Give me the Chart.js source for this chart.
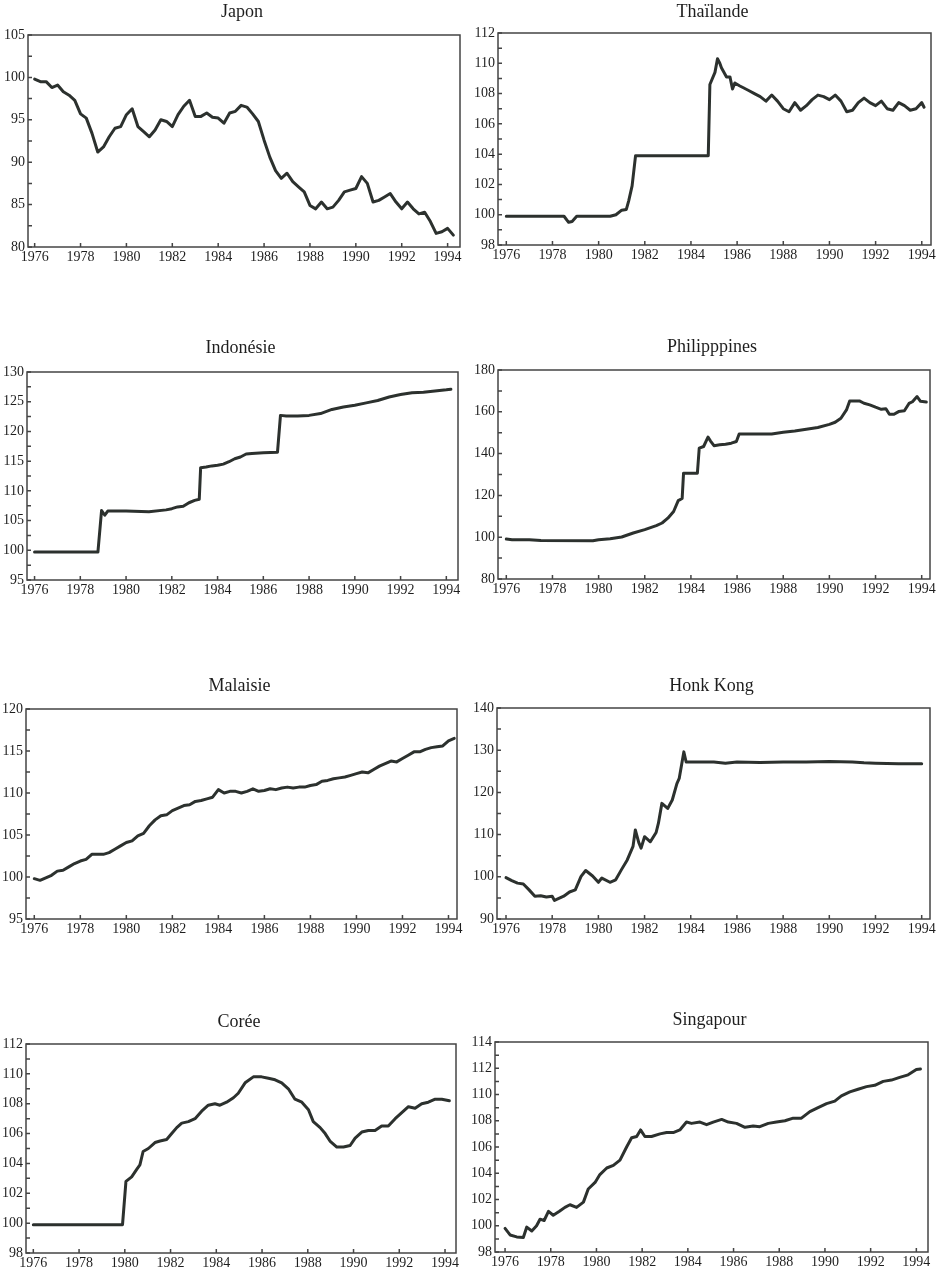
<!DOCTYPE html>
<html lang="fr">
<head>
<meta charset="utf-8">
<title>Taux de change effectifs réels</title>
<script src="https://cdn.jsdelivr.net/npm/chart.js@4/dist/chart.umd.min.js"></script>
<style>
  body { margin: 0; background: #fff; width: 941px; height: 1270px; overflow: hidden; position: relative; }
  canvas { position: absolute; }
</style>
</head>
<body>
<script>
// tick labels of the time axis
const years = [1976, 1978, 1980, 1982, 1984, 1986, 1988, 1990, 1992, 1994];

// quarterly dates used by the two regular series
const quarters = [
  1976, 1976.25, 1976.5, 1976.75, 1977, 1977.25, 1977.5, 1977.75,
  1978, 1978.25, 1978.5, 1978.75, 1979, 1979.25, 1979.5, 1979.75,
  1980, 1980.25, 1980.5, 1980.75, 1981, 1981.25, 1981.5, 1981.75,
  1982, 1982.25, 1982.5, 1982.75, 1983, 1983.25, 1983.5, 1983.75,
  1984, 1984.25, 1984.5, 1984.75, 1985, 1985.25, 1985.5, 1985.75,
  1986, 1986.25, 1986.5, 1986.75, 1987, 1987.25, 1987.5, 1987.75,
  1988, 1988.25, 1988.5, 1988.75, 1989, 1989.25, 1989.5, 1989.75,
  1990, 1990.25, 1990.5, 1990.75, 1991, 1991.25, 1991.5, 1991.75,
  1992, 1992.25, 1992.5, 1992.75, 1993, 1993.25, 1993.5, 1993.75,
  1994, 1994.25
];

const japon = [
  99.8, 99.5, 99.5, 98.8, 99.1, 98.3, 97.9, 97.3,
  95.7, 95.2, 93.4, 91.2, 91.8, 93.0, 94.0, 94.2,
  95.6, 96.3, 94.2, 93.6, 93.0, 93.8, 95.0, 94.8,
  94.2, 95.6, 96.6, 97.3, 95.4, 95.4, 95.8, 95.3,
  95.2, 94.6, 95.8, 96.0, 96.7, 96.5, 95.7, 94.8,
  92.6, 90.6, 89.0, 88.1, 88.7, 87.7, 87.1, 86.5,
  84.9, 84.5, 85.3, 84.5, 84.7, 85.5, 86.5, 86.7,
  86.9, 88.3, 87.5, 85.3, 85.5, 85.9, 86.3, 85.3,
  84.5, 85.3, 84.5, 83.9, 84.1, 83.0, 81.6, 81.8,
  82.2, 81.4
];

const malaisie = [
  99.8, 99.6, 99.9, 100.2, 100.7, 100.8, 101.2, 101.6,
  101.9, 102.1, 102.7, 102.7, 102.7, 102.9, 103.3, 103.7,
  104.1, 104.3, 104.9, 105.2, 106.1, 106.8, 107.3, 107.4,
  107.9, 108.2, 108.5, 108.6, 109.0, 109.1, 109.3, 109.5,
  110.4, 110.0, 110.2, 110.2, 110.0, 110.2, 110.5, 110.2,
  110.3, 110.5, 110.4, 110.6, 110.7, 110.6, 110.7, 110.7,
  110.9, 111.0, 111.4, 111.5, 111.7, 111.8, 111.9, 112.1,
  112.3, 112.5, 112.4, 112.8, 113.2, 113.5, 113.8, 113.7,
  114.1, 114.5, 114.9, 114.9, 115.2, 115.4, 115.5, 115.6,
  116.2, 116.5
];

const thaiT = [
  1976, 1978.5, 1978.7, 1978.85, 1979.05, 1980.5, 1980.75, 1981, 1981.2, 1981.3, 1981.45, 1981.6,
  1984.75, 1984.82, 1985.04, 1985.15, 1985.25, 1985.32, 1985.54, 1985.69, 1985.8, 1985.9,
  1986.12, 1986.25, 1986.5, 1986.75, 1987, 1987.25, 1987.5, 1987.75,
  1988, 1988.25, 1988.5, 1988.75, 1989, 1989.25, 1989.5, 1989.75,
  1990, 1990.25, 1990.5, 1990.75, 1991, 1991.25, 1991.5, 1991.75,
  1992, 1992.25, 1992.5, 1992.75, 1993, 1993.25, 1993.5, 1993.75, 1994, 1994.1
];
const thaiV = [
  99.9, 99.9, 99.5, 99.55, 99.9, 99.9, 100.0, 100.3, 100.35, 100.9, 101.9, 103.9,
  103.9, 108.6, 109.4, 110.3, 110.0, 109.7, 109.1, 109.1, 108.3, 108.7,
  108.5, 108.4, 108.2, 108.0, 107.8, 107.5, 107.9, 107.5,
  107.0, 106.8, 107.4, 106.9, 107.2, 107.6, 107.9, 107.8,
  107.6, 107.9, 107.5, 106.8, 106.9, 107.4, 107.7, 107.4,
  107.2, 107.5, 107.0, 106.9, 107.4, 107.2, 106.9, 107.0, 107.4, 107.1
];

const indoT = [
  1976, 1978.77, 1978.93, 1979.07, 1979.2, 1980, 1981, 1981.75,
  1982, 1982.25, 1982.5, 1982.75, 1983, 1983.2, 1983.26, 1983.5, 1983.75,
  1984, 1984.25, 1984.5, 1984.75, 1985, 1985.25, 1985.5, 1986, 1986.62, 1986.75,
  1987, 1987.5, 1988, 1988.5, 1989, 1989.5, 1990, 1990.5, 1991, 1991.5,
  1992, 1992.5, 1993, 1993.5, 1994, 1994.2
];
const indoV = [
  99.7, 99.7, 106.7, 105.9, 106.6, 106.6, 106.5, 106.8,
  107.0, 107.3, 107.4, 108.0, 108.4, 108.6, 113.9, 114.0, 114.2,
  114.3, 114.5, 114.9, 115.4, 115.7, 116.2, 116.3, 116.4, 116.5, 122.7,
  122.6, 122.6, 122.7, 123.0, 123.7, 124.1, 124.4, 124.8, 125.2, 125.8,
  126.2, 126.5, 126.6, 126.8, 127.0, 127.1
];

const philT = [
  1976, 1976.25, 1977, 1977.5, 1979.75, 1980, 1980.5, 1981, 1981.5, 1982, 1982.5, 1982.75,
  1983, 1983.25, 1983.45, 1983.62, 1983.68, 1984.28, 1984.36, 1984.55, 1984.74, 1984.85,
  1985, 1985.25, 1985.5, 1985.75, 1985.97, 1986.09, 1986.5, 1987.5, 1988, 1988.5, 1989, 1989.5,
  1990, 1990.25, 1990.5, 1990.74, 1990.88, 1991.3, 1991.5, 1991.75,
  1992, 1992.25, 1992.45, 1992.6, 1992.8, 1993, 1993.25, 1993.45, 1993.6, 1993.8, 1993.95, 1994.2
];
const philV = [
  99.1, 98.8, 98.8, 98.4, 98.3, 98.8, 99.3, 100.1, 102.0, 103.6, 105.5, 106.8,
  109.1, 112.3, 117.5, 118.5, 130.6, 130.6, 142.6, 143.4, 147.9, 146.0,
  143.8, 144.2, 144.5, 145.0, 145.8, 149.4, 149.4, 149.4, 150.2, 150.8, 151.6, 152.5,
  154.0, 155.0, 156.9, 160.9, 165.2, 165.2, 164.1, 163.3,
  162.2, 161.2, 161.5, 158.8, 158.8, 160.1, 160.5, 164.0, 164.8, 167.3, 165.0, 164.7
];

const hkT = [
  1976, 1976.25, 1976.5, 1976.75, 1977, 1977.25, 1977.5, 1977.75,
  1978, 1978.1, 1978.5, 1978.75, 1979, 1979.25, 1979.45, 1979.75,
  1980, 1980.15, 1980.5, 1980.75, 1981, 1981.25, 1981.5, 1981.6, 1981.75, 1981.85,
  1982, 1982.25, 1982.5, 1982.6, 1982.75, 1983, 1983.2, 1983.4, 1983.5, 1983.7, 1983.8,
  1984, 1985, 1985.5, 1986, 1987, 1988, 1989, 1990, 1991, 1991.5, 1992, 1993, 1994
];
const hkV = [
  99.8, 99.1, 98.5, 98.3, 96.9, 95.4, 95.5, 95.2,
  95.4, 94.4, 95.4, 96.4, 96.9, 100.1, 101.5, 100.2,
  98.7, 99.7, 98.7, 99.3, 101.7, 104.0, 107.2, 111.1, 108.1, 106.8,
  109.5, 108.3, 110.5, 112.7, 117.4, 116.2, 118.2, 122.1, 123.3, 129.6, 127.2,
  127.2, 127.2, 126.9, 127.2, 127.1, 127.2, 127.2, 127.3, 127.2, 127.0, 126.9, 126.8, 126.8
];

const coreeT = [
  1976, 1979.9, 1980.05, 1980.3, 1980.52, 1980.66, 1980.8,
  1981.03, 1981.32, 1981.54, 1981.83, 1982.05, 1982.27, 1982.49, 1982.78,
  1983.07, 1983.36, 1983.65, 1983.94, 1984.16, 1984.45, 1984.75, 1984.96,
  1985.26, 1985.62, 1985.98, 1986.28, 1986.57, 1986.86, 1987.15, 1987.44, 1987.74,
  1988.03, 1988.24, 1988.54, 1988.76, 1988.97, 1989.27, 1989.56, 1989.85,
  1990.07, 1990.36, 1990.65, 1990.94, 1991.23, 1991.52, 1991.82,
  1992.11, 1992.4, 1992.69, 1992.98, 1993.27, 1993.57, 1993.86, 1994.19
];
const coreeV = [
  99.9, 99.9, 102.8, 103.1, 103.6, 103.9, 104.8,
  105.0, 105.4, 105.5, 105.6, 106.0, 106.4, 106.7, 106.8,
  107.0, 107.5, 107.9, 108.0, 107.9, 108.1, 108.4, 108.7,
  109.4, 109.8, 109.8, 109.7, 109.6, 109.4, 109.0, 108.3, 108.1,
  107.6, 106.8, 106.4, 106.0, 105.5, 105.1, 105.1, 105.2,
  105.7, 106.1, 106.2, 106.2, 106.5, 106.5, 107.0,
  107.4, 107.8, 107.7, 108.0, 108.1, 108.3, 108.3, 108.2
];

const singT = [
  1976, 1976.22, 1976.51, 1976.8, 1976.95, 1977.17, 1977.38, 1977.53, 1977.71, 1977.9,
  1978.11, 1978.38, 1978.62, 1978.84, 1979.13, 1979.43, 1979.64, 1979.94,
  1980.15, 1980.45, 1980.74, 1981.03, 1981.32, 1981.54, 1981.76, 1981.93,
  1982.12, 1982.41, 1982.78, 1983.07, 1983.36, 1983.65, 1983.94,
  1984.16, 1984.53, 1984.82, 1985.11, 1985.48, 1985.77, 1986.13, 1986.5, 1986.86,
  1987.15, 1987.52, 1987.88, 1988.25, 1988.61, 1988.97, 1989.34, 1989.7,
  1990.07, 1990.43, 1990.72, 1991.09, 1991.45, 1991.82, 1992.18, 1992.55, 1992.91,
  1993.27, 1993.64, 1994, 1994.18
];
const singV = [
  99.8, 99.3, 99.15, 99.1, 99.9, 99.6, 100.0, 100.5, 100.4, 101.1,
  100.8, 101.1, 101.4, 101.6, 101.4, 101.8, 102.8, 103.3,
  103.9, 104.4, 104.6, 105.0, 106.0, 106.7, 106.8, 107.3,
  106.8, 106.8, 107.0, 107.1, 107.1, 107.3, 107.9,
  107.8, 107.9, 107.7, 107.9, 108.1, 107.9, 107.8, 107.5, 107.6,
  107.55, 107.8, 107.9, 108.0, 108.2, 108.2, 108.7, 109.0,
  109.3, 109.5, 109.9, 110.2, 110.4, 110.6, 110.7, 111.0, 111.1,
  111.3, 111.5, 111.9, 111.95
];

// panel titles and y ranges
const titles = ['Japon', 'Thaïlande', 'Indonésie', 'Philipppines', 'Malaisie', 'Honk Kong', 'Corée', 'Singapour'];
const yMin  = [80, 98, 95, 80, 95, 90, 98, 98];
const yMax  = [105, 112, 130, 180, 120, 140, 112, 114];
const yStep = [5, 2, 5, 20, 5, 10, 2, 2];
const seriesT = [quarters, thaiT, indoT, philT, quarters, hkT, coreeT, singT];
const seriesV = [japon, thaiV, indoV, philV, malaisie, hkV, coreeV, singV];

// where each plot frame sits on the page
const layout = [
  { l: 28, t: 35,   r: 460, b: 247,  base: 17,   xMin: 1975.71, xMax: 1994.54 },
  { l: 498, t: 33,  r: 931, b: 245,  base: 17,   xMin: 1975.64, xMax: 1994.40 },
  { l: 27, t: 372,  r: 458, b: 580,  base: 353,  xMin: 1975.67, xMax: 1994.51 },
  { l: 498, t: 370, r: 930, b: 579,  base: 352,  xMin: 1975.64, xMax: 1994.36 },
  { l: 26, t: 709,  r: 457, b: 919,  base: 691,  xMin: 1975.64, xMax: 1994.37 },
  { l: 497, t: 708, r: 930, b: 919,  base: 691,  xMin: 1975.61, xMax: 1994.36 },
  { l: 26, t: 1044, r: 456, b: 1253, base: 1027, xMin: 1975.68, xMax: 1994.48 },
  { l: 495, t: 1042, r: 928, b: 1252, base: 1025, xMin: 1975.56, xMax: 1994.51 }
];

const ink = '#2c312e';
const serif = '"Liberation Serif", "Times New Roman", serif';
Chart.defaults.font.family = serif;
Chart.defaults.font.size = 14;
Chart.defaults.color = '#1e1e1e';

// box frame, inward ticks and the panel title
const framePlugin = {
  id: 'frame',
  afterDatasetsDraw(chart, args, opts) {
    const { ctx, chartArea: a, scales: { x, y } } = chart;
    ctx.save();
    ctx.strokeStyle = '#444';
    ctx.lineWidth = 1.5;
    ctx.strokeRect(a.left, a.top, a.right - a.left, a.bottom - a.top);
    ctx.beginPath();
    years.forEach(v => {
      const px = x.getPixelForValue(v);
      ctx.moveTo(px, a.bottom);
      ctx.lineTo(px, a.bottom - 4);
    });
    for (let v = y.min; v <= y.max + 1e-9; v += opts.step / 2) {
      const py = y.getPixelForValue(v);
      ctx.moveTo(a.left, py);
      ctx.lineTo(a.left + 4, py);
    }
    ctx.stroke();
    ctx.fillStyle = '#1e1e1e';
    ctx.font = '18px ' + serif;
    ctx.textAlign = 'center';
    ctx.textBaseline = 'alphabetic';
    ctx.fillText(opts.title, (a.left + a.right) / 2 - 2, opts.baseline);
    ctx.restore();
  }
};

titles.forEach((title, i) => {
  const p = layout[i];
  const col = i % 2;
  const left = col * 470;
  const width = col ? 471 : 470;
  const top = p.t - 35;
  const height = (p.b - p.t) + 35 + 22;

  const canvas = document.createElement('canvas');
  canvas.width = width;
  canvas.height = height;
  canvas.style.left = left + 'px';
  canvas.style.top = top + 'px';
  canvas.style.width = width + 'px';
  canvas.style.height = height + 'px';
  document.body.appendChild(canvas);

  const pts = seriesT[i].map((t, k) => ({ x: t, y: seriesV[i][k] }));

  new Chart(canvas, {
    type: 'line',
    data: {
      datasets: [{
        data: pts,
        borderColor: ink,
        borderWidth: 3,
        pointRadius: 0,
        tension: 0,
        borderJoinStyle: 'round',
        borderCapStyle: 'round'
      }]
    },
    options: {
      responsive: false,
      animation: false,
      devicePixelRatio: 1,
      layout: { padding: { top: 35, right: left + width - p.r, left: 0, bottom: 0 } },
      plugins: {
        legend: { display: false },
        tooltip: { enabled: false },
        frame: { title: title, baseline: p.base - top, step: yStep[i] }
      },
      scales: {
        x: {
          type: 'linear',
          min: p.xMin,
          max: p.xMax,
          grid: { display: false, drawTicks: false },
          border: { display: false },
          afterBuildTicks: s => { s.ticks = years.map(v => ({ value: v })); },
          afterFit: s => { s.height = 22; },
          ticks: { padding: 2, maxRotation: 0, autoSkip: false, callback: v => String(v) }
        },
        y: {
          min: yMin[i],
          max: yMax[i],
          grid: { display: false, drawTicks: false },
          border: { display: false },
          afterFit: s => { s.width = p.l - left; },
          ticks: { stepSize: yStep[i], padding: 3, callback: v => String(v) }
        }
      }
    },
    plugins: [framePlugin]
  });
});
</script>
</body>
</html>
